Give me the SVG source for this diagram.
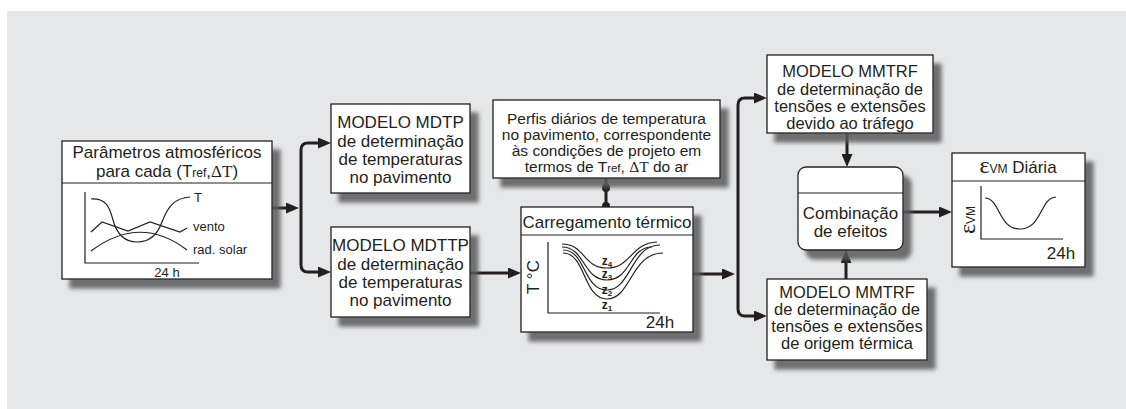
<svg xmlns="http://www.w3.org/2000/svg" width="1126" height="409" viewBox="0 0 1126 409">
<defs>
<style>
.box{fill:#fff;stroke:#231f20;stroke-width:1.3}
.t{font-family:"Liberation Sans",Arial,sans-serif;font-size:17px;fill:#231f20;text-anchor:middle}
.m{font-size:16.5px}
.p{font-size:15.5px}
.s{font-family:"Liberation Sans",Arial,sans-serif;font-size:13px;fill:#231f20}
.serif{font-family:"Liberation Serif","Times New Roman",serif}
.conn{fill:none;stroke:#231f20;stroke-width:3}
.thin{fill:none;stroke:#231f20;stroke-width:1.2}
.z{font-family:"Liberation Sans",Arial,sans-serif;font-size:12px;font-weight:bold;fill:#231f20;text-anchor:middle}
</style>
<filter id="sh" x="-10%" y="-10%" width="130%" height="140%">
<feGaussianBlur in="SourceAlpha" stdDeviation="2"/>
<feOffset dx="8" dy="9" result="o"/>
<feFlood flood-color="#58595b" flood-opacity="0.85"/>
<feComposite in2="o" operator="in"/>
<feMerge><feMergeNode/><feMergeNode in="SourceGraphic"/></feMerge>
</filter>
<marker id="ah" markerUnits="userSpaceOnUse" markerWidth="13" markerHeight="11" refX="4" refY="5.5" orient="auto">
<path d="M0,0 L13,5.5 L0,11 z" fill="#231f20"/>
</marker>
</defs>
<rect x="7" y="11" width="1119" height="398" fill="#e6e7e8"/>

<g id="connectors">
<path class="conn" d="M272,208 L290,208" marker-end="url(#ah)"/>
<path class="conn" d="M301,208 L301,150 Q301,143 308,143 L322,143" marker-end="url(#ah)"/>
<path class="conn" d="M301,208 L301,265 Q301,272 308,272 L322,272" marker-end="url(#ah)"/>
<path class="conn" d="M470,273 L512,273" marker-end="url(#ah)"/>
<path class="conn" d="M606,178 L606,207"/>
<circle cx="606" cy="188" r="4" fill="#231f20"/>
<circle cx="606" cy="206" r="4" fill="#231f20"/>
<path class="conn" d="M693,274 L726,274" marker-end="url(#ah)"/>
<path class="conn" d="M738,274 L738,105 Q738,98 745,98 L758,98" marker-end="url(#ah)"/>
<path class="conn" d="M738,274 L738,309 Q738,316 745,316 L758,316" marker-end="url(#ah)"/>
<path class="conn" d="M847,133 L847,158" marker-end="url(#ah)"/>
<path class="conn" d="M846,279 L846,259" marker-end="url(#ah)"/>
<path class="conn" d="M903,212 L943,212" marker-end="url(#ah)"/>
</g>

<g id="n-param">
<rect class="box" x="62" y="141" width="210" height="138" filter="url(#sh)"/>
<line class="thin" x1="62" y1="183" x2="272" y2="183"/>
<text class="t" x="167" y="158">Parâmetros atmosféricos</text>
<text class="t" x="167" y="177">para cada (T<tspan font-size="12">ref</tspan>,<tspan class="serif">ΔT</tspan>)</text>
<path class="thin" d="M85,192 L85,263 L199,263"/>
<path class="thin" d="M91,199 C108,198 110,210 113,220 C118,238 128,242 137,242 C148,242 157,236 162,222 C168,206 175,198 190,197"/>
<path class="thin" d="M91,232 L102,222 L128,231 L150,222 L180,232 L187,228"/>
<path class="thin" d="M91,251 Q140,214 187,250"/>
<text class="s" x="194" y="202">T</text>
<text class="s" x="193" y="231">vento</text>
<text class="s" x="193" y="254">rad. solar</text>
<text class="s" x="167" y="277" text-anchor="middle">24 h</text>
</g>

<g id="n-mdtp">
<rect class="box" x="331" y="104" width="139" height="89" filter="url(#sh)"/>
<text class="t" x="400.5" y="128">MODELO MDTP</text>
<text class="t" x="400.5" y="147">de determinação</text>
<text class="t" x="400.5" y="165">de temperaturas</text>
<text class="t" x="400.5" y="183">no pavimento</text>
</g>

<g id="n-mdttp">
<rect class="box" x="331" y="227" width="139" height="90" filter="url(#sh)"/>
<text class="t" x="400.5" y="251">MODELO MDTTP</text>
<text class="t" x="400.5" y="270">de determinação</text>
<text class="t" x="400.5" y="288">de temperaturas</text>
<text class="t" x="400.5" y="306">no pavimento</text>
</g>

<g id="n-perfis">
<rect class="box" x="493" y="100" width="227" height="78" filter="url(#sh)"/>
<text class="t p" x="606.5" y="124">Perfis diários de temperatura</text>
<text class="t p" x="606.5" y="140">no pavimento, correspondente</text>
<text class="t p" x="606.5" y="156">às condições de projeto em</text>
<text class="t p" x="606.5" y="172">termos de T<tspan font-size="11.5">ref</tspan>, <tspan class="serif">ΔT</tspan> do ar</text>
</g>

<g id="n-carreg">
<rect class="box" x="521" y="207" width="172" height="125" filter="url(#sh)"/>
<line class="thin" x1="521" y1="235" x2="693" y2="235"/>
<text class="t" x="607" y="228">Carregamento térmico</text>
<path class="thin" d="M548,242 L548,313 L660,313"/>
<text class="t" x="0" y="0" transform="translate(539,277) rotate(-90)">T °C</text>
<text class="t" x="660" y="328">24h</text>
<path class="thin" d="M562,244 C585,244 583,268 607,268 C631,268 631,243 657,242"/>
<path class="thin" d="M562,247 C585,247 583,280 607,280 C631,280 629,247 652,247"/>
<path class="thin" d="M563,250 C586,250 583,290 607,290 C631,290 631,245 660,245"/>
<path class="thin" d="M563,253 C586,253 583,299 607,299 C631,299 631,253 663,253"/>
<text class="z" x="607" y="265">z<tspan font-size="8" dy="2">4</tspan></text>
<text class="z" x="607" y="278">z<tspan font-size="8" dy="2">3</tspan></text>
<text class="z" x="607" y="294">z<tspan font-size="8" dy="2">2</tspan></text>
<text class="z" x="607" y="309">z<tspan font-size="8" dy="2">1</tspan></text>
</g>

<g id="n-mmtrf-trafego">
<rect class="box" x="767" y="55" width="166" height="78" filter="url(#sh)"/>
<text class="t m" x="850" y="77">MODELO MMTRF</text>
<text class="t m" x="850" y="95">de determinação de</text>
<text class="t m" x="850" y="112">tensões e extensões</text>
<text class="t m" x="850" y="129">devido ao tráfego</text>
</g>

<g id="n-combinacao">
<rect class="box" x="798" y="167" width="105" height="83" rx="8" ry="8" filter="url(#sh)"/>
<line class="thin" x1="798" y1="193" x2="903" y2="193"/>
<text class="t" x="850.5" y="219">Combinação</text>
<text class="t" x="850.5" y="237">de efeitos</text>
</g>

<g id="n-mmtrf-termica">
<rect class="box" x="767" y="279" width="160" height="81" filter="url(#sh)"/>
<text class="t m" x="847" y="298">MODELO MMTRF</text>
<text class="t m" x="847" y="315">de determinação de</text>
<text class="t m" x="847" y="332">tensões e extensões</text>
<text class="t m" x="847" y="349">de origem térmica</text>
</g>

<g id="n-evm">
<rect class="box" x="952" y="153" width="133" height="114" filter="url(#sh)"/>
<line class="thin" x1="952" y1="181" x2="1085" y2="181"/>
<text class="t" x="1018" y="173"><tspan class="serif" font-size="24">ε</tspan><tspan font-size="12">VM</tspan> Diária</text>
<path class="thin" d="M981,186 L981,239 L1063,239"/>
<path class="thin" d="M985,198 C1000,198 998,229 1020,229 C1042,229 1040,198 1056,197"/>
<text class="t" x="0" y="0" transform="translate(975,220) rotate(-90)"><tspan class="serif" font-size="24">ε</tspan><tspan font-size="12">VM</tspan></text>
<text class="t" x="1061" y="259">24h</text>
</g>
</svg>
